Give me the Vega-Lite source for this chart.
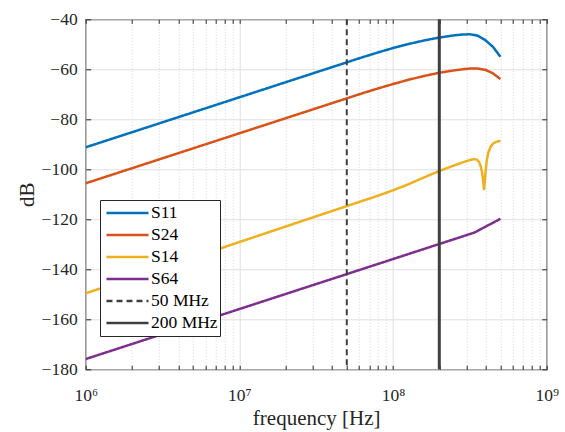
{
  "$schema": "https://vega.github.io/schema/vega-lite/v6.json",
  "width": 461,
  "height": 350,
  "autosize": "none",
  "padding": {"left": 85.7, "top": 19.3, "right": 18.3, "bottom": 62.7},
  "background": "white",
  "config": {
    "view": {"stroke": "#262626", "strokeWidth": 1.2},
    "font": "Liberation Serif",
    "style": {
      "guide-label": {"font": "Liberation Serif", "fontSize": 17.5},
      "guide-title": {"font": "Liberation Serif", "fontSize": 21}
    },
    "axis": {
      "labelFont": "Liberation Serif",
      "titleFont": "Liberation Serif",
      "labelFontSize": 17.5,
      "titleFontSize": 21,
      "titleFontWeight": "normal",
      "labelColor": "#262626",
      "titleColor": "#262626",
      "domain": false,
      "tickColor": "#262626",
      "tickWidth": 1,
      "gridColor": "#dfdfdf",
      "gridWidth": 1,
      "labelOverlap": false,
      "labelBound": false,
      "labelFlush": false
    },
    "legend": {
      "symbolType": "stroke",
      "labelFont": "Liberation Serif",
      "labelFontSize": 17.5
    }
  },
  "datasets": {
    "curves": [
      {"s": "S11", "f": 1000000, "dB": -91.2},
      {"s": "S11", "f": 3162278, "dB": -81.2},
      {"s": "S11", "f": 10000000, "dB": -71.2},
      {"s": "S11", "f": 31622777, "dB": -61.2},
      {"s": "S11", "f": 63095734, "dB": -55.2},
      {"s": "S11", "f": 79432823, "dB": -53.3},
      {"s": "S11", "f": 100000000, "dB": -51.5},
      {"s": "S11", "f": 125892541, "dB": -49.9},
      {"s": "S11", "f": 158489319, "dB": -48.5},
      {"s": "S11", "f": 199526231, "dB": -47.3},
      {"s": "S11", "f": 251188643, "dB": -46.4},
      {"s": "S11", "f": 281838293, "dB": -46.1},
      {"s": "S11", "f": 316227766, "dB": -46.0},
      {"s": "S11", "f": 354813389, "dB": -46.5},
      {"s": "S11", "f": 398107171, "dB": -48.3},
      {"s": "S11", "f": 446683592, "dB": -51.0},
      {"s": "S11", "f": 500000000, "dB": -55.0},
      {"s": "S24", "f": 1000000, "dB": -105.6},
      {"s": "S24", "f": 3162278, "dB": -95.6},
      {"s": "S24", "f": 10000000, "dB": -85.6},
      {"s": "S24", "f": 31622777, "dB": -75.6},
      {"s": "S24", "f": 63095734, "dB": -69.6},
      {"s": "S24", "f": 79432823, "dB": -67.7},
      {"s": "S24", "f": 100000000, "dB": -65.9},
      {"s": "S24", "f": 125892541, "dB": -64.2},
      {"s": "S24", "f": 158489319, "dB": -62.7},
      {"s": "S24", "f": 199526231, "dB": -61.4},
      {"s": "S24", "f": 251188643, "dB": -60.4},
      {"s": "S24", "f": 281838293, "dB": -60.0},
      {"s": "S24", "f": 316227766, "dB": -59.7},
      {"s": "S24", "f": 354813389, "dB": -59.7},
      {"s": "S24", "f": 398107171, "dB": -60.2},
      {"s": "S24", "f": 446683592, "dB": -61.6},
      {"s": "S24", "f": 500000000, "dB": -63.9},
      {"s": "S14", "f": 1000000, "dB": -149.6},
      {"s": "S14", "f": 3162278, "dB": -139.4},
      {"s": "S14", "f": 10000000, "dB": -129.1},
      {"s": "S14", "f": 31622777, "dB": -118.8},
      {"s": "S14", "f": 79432823, "dB": -110.6},
      {"s": "S14", "f": 100000000, "dB": -108.4},
      {"s": "S14", "f": 125892541, "dB": -106.0},
      {"s": "S14", "f": 158489319, "dB": -103.3},
      {"s": "S14", "f": 199526231, "dB": -100.7},
      {"s": "S14", "f": 251188643, "dB": -98.4},
      {"s": "S14", "f": 281838293, "dB": -97.3},
      {"s": "S14", "f": 316227766, "dB": -96.3},
      {"s": "S14", "f": 338844156, "dB": -95.9},
      {"s": "S14", "f": 350751874, "dB": -96.1},
      {"s": "S14", "f": 362243990, "dB": -97.0},
      {"s": "S14", "f": 371535229, "dB": -98.6},
      {"s": "S14", "f": 380189396, "dB": -101.5},
      {"s": "S14", "f": 387257645, "dB": -105.5},
      {"s": "S14", "f": 390840896, "dB": -108.3},
      {"s": "S14", "f": 394457302, "dB": -105.5},
      {"s": "S14", "f": 400866843, "dB": -100.5},
      {"s": "S14", "f": 407380278, "dB": -96.5},
      {"s": "S14", "f": 416869383, "dB": -93.2},
      {"s": "S14", "f": 431519077, "dB": -91.0},
      {"s": "S14", "f": 446683592, "dB": -89.8},
      {"s": "S14", "f": 467735141, "dB": -89.0},
      {"s": "S14", "f": 500000000, "dB": -88.6},
      {"s": "S64", "f": 1000000, "dB": -175.9},
      {"s": "S64", "f": 3162278, "dB": -165.9},
      {"s": "S64", "f": 10000000, "dB": -155.9},
      {"s": "S64", "f": 31622777, "dB": -145.9},
      {"s": "S64", "f": 100000000, "dB": -135.9},
      {"s": "S64", "f": 199526231, "dB": -129.9},
      {"s": "S64", "f": 316227766, "dB": -125.9},
      {"s": "S64", "f": 338844156, "dB": -125.3},
      {"s": "S64", "f": 398107171, "dB": -123.0},
      {"s": "S64", "f": 446683592, "dB": -121.4},
      {"s": "S64", "f": 500000000, "dB": -119.8}
    ],
    "vlines": [
      {"s": "50 MHz", "f": 50000000},
      {"s": "200 MHz", "f": 200000000}
    ]
  },
  "layer": [
    {
      "data": {"name": "curves"},
      "mark": {"type": "line", "strokeWidth": 2.5, "clip": true},
      "encoding": {
        "x": {
          "field": "f", "type": "quantitative",
          "scale": {"type": "log", "domain": [1000000, 1000000000]},
          "axis": {
            "orient": "bottom",
            "title": "frequency [Hz]",
            "titleFont": "Liberation Serif",
            "titleFontSize": 21,
            "titleY": 55,
            "titleBaseline": "alphabetic",
            "values": [1000000, 2000000, 3000000, 4000000, 5000000, 6000000, 7000000, 8000000, 9000000,
                       10000000, 20000000, 30000000, 40000000, 50000000, 60000000, 70000000, 80000000, 90000000,
                       100000000, 200000000, 300000000, 400000000, 500000000, 600000000, 700000000, 800000000, 900000000,
                       1000000000],
            "labelExpr": "datum.value == 1000000 ? '10\u2076' : datum.value == 10000000 ? '10\u2077' : datum.value == 100000000 ? '10\u2078' : datum.value == 1000000000 ? '10\u2079' : ''",
            "labelFont": "Liberation Serif",
            "labelFontSize": 17.5,
            "grid": true,
            "gridDash": {"condition": {"test": "datum.value != 1000000 && datum.value != 10000000 && datum.value != 100000000 && datum.value != 1000000000", "value": [1, 2]}, "value": []},
            "gridColor": {"condition": {"test": "datum.value != 1000000 && datum.value != 10000000 && datum.value != 100000000 && datum.value != 1000000000", "value": "#d4d4d4"}, "value": "#dfdfdf"},
            "tickSize": -4,
            "labelPadding": 21
          }
        },
        "y": {
          "field": "dB", "type": "quantitative",
          "scale": {"domain": [-180, -40]},
          "axis": {
            "orient": "left",
            "title": "dB",
            "titleFont": "Liberation Serif",
            "titleFontSize": 21,
            "titleX": -52.4,
            "titleY": 175,
            "titleAngle": -90,
            "titleBaseline": "alphabetic",
            "titleAlign": "center",
            "values": [-180, -160, -140, -120, -100, -80, -60, -40],
            "labelFont": "Liberation Serif",
            "labelFontSize": 17.5,
            "grid": true,
            "tickSize": -5,
            "labelPadding": 13.5
          }
        },
        "color": {
          "field": "s", "type": "nominal",
          "scale": {
            "domain": ["S11", "S24", "S14", "S64", "50 MHz", "200 MHz"],
            "range": ["#0072BD", "#D95319", "#EDB120", "#7E2F8E", "#404040", "#404040"]
          },
          "legend": {
            "orient": "none", "legendX": 14.3, "legendY": 180.7, "title": null,
            "labelFont": "Liberation Serif", "labelFontSize": 17.5, "labelColor": "#000000",
            "fillColor": "white", "strokeColor": "#262626", "padding": 2,
            "symbolType": "stroke", "symbolSize": 1764, "symbolStrokeWidth": 2.5,
            "clipHeight": 22, "rowPadding": 0, "symbolOffset": 3, "labelOffset": 1
          }
        },
        "strokeDash": {
          "field": "s", "type": "nominal",
          "scale": {
            "domain": ["S11", "S24", "S14", "S64", "50 MHz", "200 MHz"],
            "range": [[1, 0], [1, 0], [1, 0], [1, 0], [6, 4], [1, 0]]
          },
          "legend": {
            "orient": "none", "legendX": 14.3, "legendY": 180.7, "title": null,
            "labelFont": "Liberation Serif", "labelFontSize": 17.5, "labelColor": "#000000",
            "fillColor": "white", "strokeColor": "#262626", "padding": 2,
            "symbolType": "stroke", "symbolSize": 1764, "symbolStrokeWidth": 2.5,
            "clipHeight": 22, "rowPadding": 0, "symbolOffset": 3, "labelOffset": 1
          }
        }
      }
    },
    {
      "data": {"name": "vlines"},
      "mark": {"type": "rule"},
      "encoding": {
        "x": {
          "field": "f", "type": "quantitative",
          "axis": {
            "orient": "top",
            "title": null,
            "labels": false,
            "grid": false,
            "values": [1000000, 2000000, 3000000, 4000000, 5000000, 6000000, 7000000, 8000000, 9000000,
                       10000000, 20000000, 30000000, 40000000, 50000000, 60000000, 70000000, 80000000, 90000000,
                       100000000, 200000000, 300000000, 400000000, 500000000, 600000000, 700000000, 800000000, 900000000,
                       1000000000],
            "tickSize": -4
          }
        },
        "color": {"field": "s", "type": "nominal"},
        "strokeDash": {"field": "s", "type": "nominal"},
        "strokeWidth": {"condition": {"test": "datum.s === '200 MHz'", "value": 3}, "value": 2}
      }
    },
    {
      "data": {"name": "curves"},
      "mark": {"type": "line", "opacity": 0},
      "encoding": {
        "x": {"field": "f", "type": "quantitative", "axis": null},
        "y": {
          "field": "dB", "type": "quantitative",
          "axis": {
            "orient": "right", "title": null, "labels": false, "grid": false,
            "values": [-180, -160, -140, -120, -100, -80, -60, -40],
            "tickSize": -5
          }
        }
      }
    }
  ],
  "resolve": {"axis": {"x": "independent", "y": "independent"}}
}
